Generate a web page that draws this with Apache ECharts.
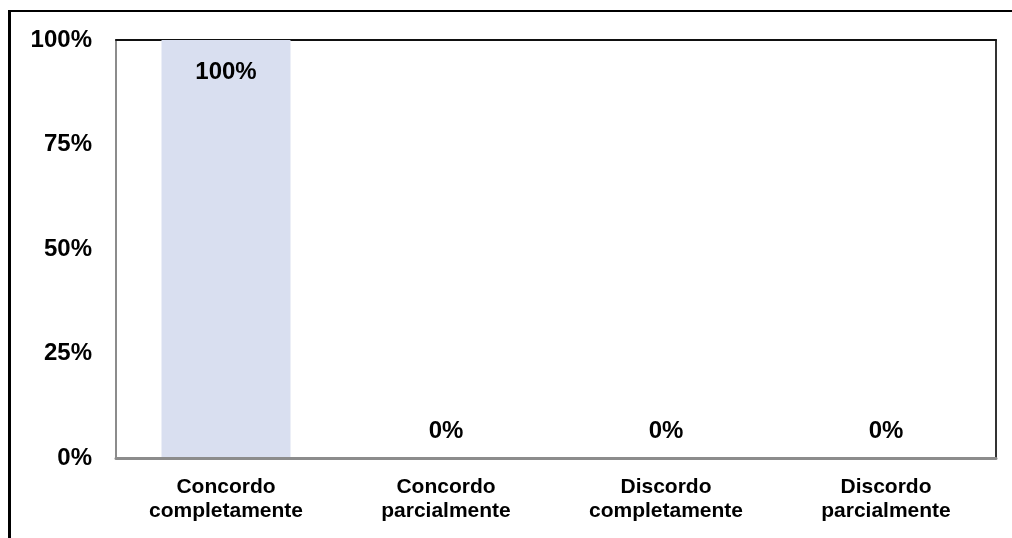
<!DOCTYPE html>
<html>
<head>
<meta charset="utf-8">
<script src="https://cdn.jsdelivr.net/npm/echarts@6/dist/echarts.min.js"></script>
<style>
  html, body { margin: 0; padding: 0; background: #ffffff; }
  #chart { width: 1012px; height: 538px; }
</style>
</head>
<body>
<div id="chart"></div>
<script>
// Response categories (two-line labels)
const categories = [
  'Concordo\ncompletamente',
  'Concordo\nparcialmente',
  'Discordo\ncompletamente',
  'Discordo\nparcialmente'
];
// Share of answers per category, in percent
const values = [100, 0, 0, 0];
// Value axis ticks
const yTicks = [0, 25, 50, 75, 100];

const FONT = '"Liberation Sans", Arial, sans-serif';
const yMax = yTicks[yTicks.length - 1];

const barData = values.map(v => ({
  value: v,
  label: v >= yMax
    ? { position: 'insideTop', distance: 20 }
    : { position: 'top', distance: 15 }
}));

const chart = echarts.init(document.getElementById('chart'), null, { renderer: 'canvas' });
chart.setOption({
  backgroundColor: '#ffffff',
  animation: false,
  grid: { left: 116, top: 40, right: 16, bottom: 80, containLabel: false },
  xAxis: [
    {
      type: 'category',
      data: categories,
      position: 'bottom',
      z: 3,
      axisLine: { show: true, onZero: false, lineStyle: { color: '#8c8c8c', width: 3 } },
      axisTick: { show: false },
      axisLabel: {
        interval: 0, margin: 17, color: '#000', fontFamily: FONT,
        fontWeight: 'bold', fontSize: 21, lineHeight: 24
      },
      splitLine: { show: false }
    },
    {
      type: 'category',
      data: categories,
      position: 'top',
      axisLine: { show: true, onZero: false, lineStyle: { color: '#111', width: 2 } },
      axisTick: { show: false },
      axisLabel: { show: false },
      splitLine: { show: false }
    }
  ],
  yAxis: [
    {
      type: 'value',
      min: yTicks[0], max: yMax, interval: yTicks[1] - yTicks[0],
      position: 'left',
      axisLine: { show: true, lineStyle: { color: '#8c8c8c', width: 2 } },
      axisTick: { show: false },
      splitLine: { show: false },
      axisLabel: {
        margin: 24, color: '#000', fontFamily: FONT, fontWeight: 'bold',
        fontSize: 24, formatter: v => v + '%'
      }
    },
    {
      type: 'value',
      min: yTicks[0], max: yMax, interval: yTicks[1] - yTicks[0],
      position: 'right',
      axisLine: { show: true, lineStyle: { color: '#333', width: 2 } },
      axisTick: { show: false },
      splitLine: { show: false },
      axisLabel: { show: false }
    }
  ],
  series: [{
    type: 'bar',
    xAxisIndex: 0,
    yAxisIndex: 0,
    data: barData,
    barWidth: 129,
    itemStyle: { color: '#d9dff0' },
    label: {
      show: true, color: '#000', fontFamily: FONT, fontWeight: 'bold',
      fontSize: 24, formatter: p => p.value + '%'
    }
  }],
  graphic: [
    // page frame around the figure
    { type: 'line', shape: { x1: 8, y1: 11, x2: 1012, y2: 11 }, style: { stroke: '#000', lineWidth: 2 } },
    { type: 'line', shape: { x1: 9.5, y1: 10, x2: 9.5, y2: 538 }, style: { stroke: '#000', lineWidth: 3 } }
  ]
});
</script>
</body>
</html>
